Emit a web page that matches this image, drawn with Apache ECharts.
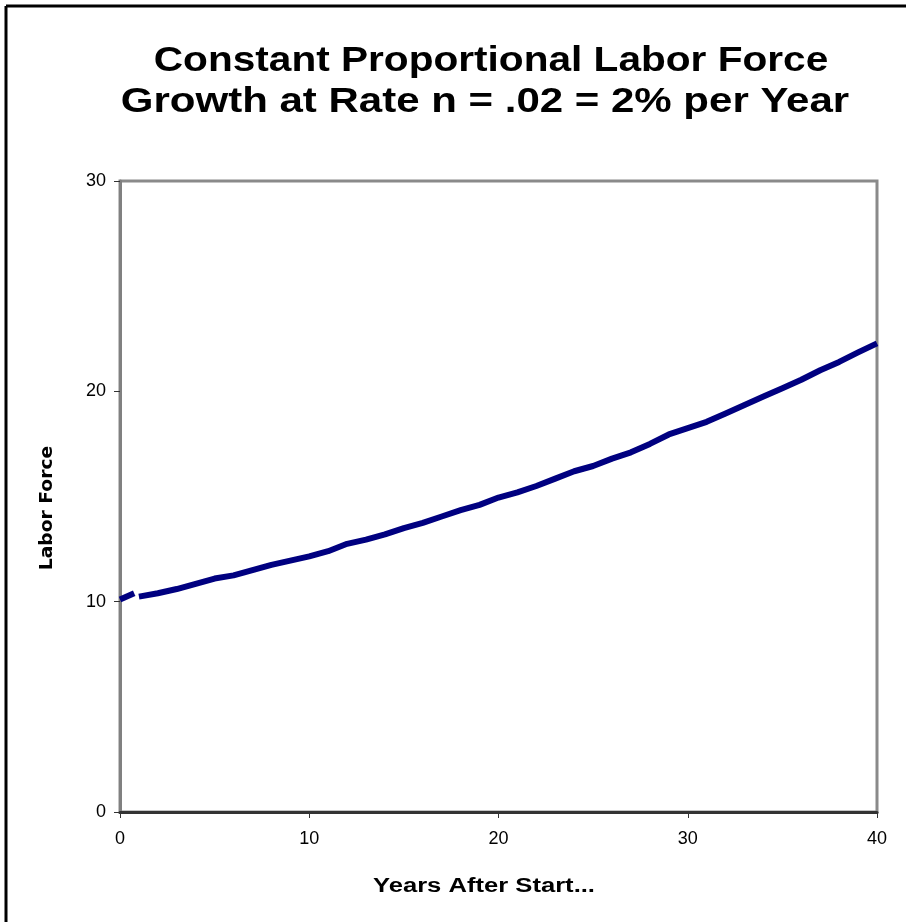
<!DOCTYPE html>
<html>
<head>
<meta charset="utf-8">
<title>Constant Proportional Labor Force Growth</title>
<script src="https://cdn.jsdelivr.net/npm/echarts@6/dist/echarts.min.js"></script>
<style>
  html, body { margin: 0; padding: 0; background: #fff; }
  #chart { width: 906px; height: 922px; }
</style>
</head>
<body>
<div id="chart"></div>
<script>
// Years after start (x) and labor force (y); the short opening piece is drawn separately
const years = [0, 1, 2, 3, 4, 5, 6, 7, 8, 9, 10, 11, 12, 13, 14, 15, 16, 17, 18, 19, 20,
               21, 22, 23, 24, 25, 26, 27, 28, 29, 30, 31, 32, 33, 34, 35, 36, 37, 38, 39, 40];
const laborForce = [10.1, 10.24, 10.4, 10.6, 10.85, 11.1, 11.25, 11.5, 11.75, 11.95, 12.15,
                    12.4, 12.75, 12.95, 13.2, 13.5, 13.75, 14.05, 14.35, 14.6, 14.95,
                    15.2, 15.5, 15.85, 16.2, 16.45, 16.8, 17.1, 17.5, 17.95, 18.25,
                    18.55, 18.95, 19.35, 19.75, 20.15, 20.55, 21.0, 21.4, 21.85, 22.28];
const openingYears = [0, 0.75];
const openingValues = [10.1, 10.4];

const xTicks = [0, 10, 20, 30, 40];
const yTicks = [0, 10, 20, 30];

const titleLines = ['Constant Proportional Labor Force', 'Growth at Rate n = .02 = 2% per Year'];
const xName = 'Years After Start...';
const yName = 'Labor Force';

// Main curve starts at year 1; the first segment is a separate short dash
const mainData = years.slice(1).map((t, i) => [t, laborForce[i + 1]]);
const openingData = openingYears.map((t, i) => [t, openingValues[i]]);

const chart = echarts.init(document.getElementById('chart'), null, { renderer: 'canvas' });

const lineStyle = { color: '#000080', width: 6, cap: 'butt', join: 'round' };
const sans = '"Liberation Sans", Arial, sans-serif';

// Centered, horizontally stretched text label
function label(text, x, y, font, sx, rotation) {
  return {
    type: 'text', x: x, y: y, scaleX: sx, rotation: rotation || 0, z: 10,
    style: { text: text, font: font, fill: '#000', align: 'center', verticalAlign: 'middle' }
  };
}

chart.setOption({
  backgroundColor: '#ffffff',
  animation: false,
  grid: {
    left: 120, right: 29, top: 181, bottom: 110,
    show: true,
    borderColor: '#8a8a8a',
    borderWidth: 3,
    backgroundColor: '#fff'
  },
  xAxis: {
    type: 'value',
    min: xTicks[0],
    max: xTicks[xTicks.length - 1],
    interval: 10,
    axisLine: { show: true, onZero: false, lineStyle: { color: '#333', width: 3 } },
    axisTick: { show: true, length: 6, lineStyle: { color: '#333', width: 1 } },
    axisLabel: { margin: 18, fontFamily: sans, fontSize: 18, color: '#000' },
    splitLine: { show: false }
  },
  yAxis: {
    type: 'value',
    min: yTicks[0],
    max: yTicks[yTicks.length - 1],
    interval: 10,
    axisLine: { show: true, onZero: false, lineStyle: { color: '#808080', width: 3 } },
    axisTick: { show: true, length: 6, lineStyle: { color: '#333', width: 1 } },
    axisLabel: { margin: 14, fontFamily: sans, fontSize: 18, color: '#000' },
    splitLine: { show: false }
  },
  graphic: [
    // outer frame of the figure
    { type: 'line', shape: { x1: 6, y1: 6, x2: 906, y2: 6 }, style: { stroke: '#000', lineWidth: 3 } },
    { type: 'line', shape: { x1: 6, y1: 6, x2: 6, y2: 922 }, style: { stroke: '#000', lineWidth: 3 } },
    // title
    label(titleLines[0], 491, 61, 'bold 35px ' + sans, 1.16),
    label(titleLines[1], 485, 102, 'bold 35px ' + sans, 1.2),
    // axis names
    label(xName, 484, 886, 'bold 20px ' + sans, 1.28),
    label(yName, 48, 508, 'bold 17px "DejaVu Sans", sans-serif', 1.1, Math.PI / 2)
  ],
  series: [
    {
      type: 'line', data: openingData, showSymbol: false, symbol: 'none',
      lineStyle: lineStyle, z: 3
    },
    {
      type: 'line', data: mainData, showSymbol: false, symbol: 'none',
      lineStyle: lineStyle, z: 3
    }
  ]
});
</script>
</body>
</html>
